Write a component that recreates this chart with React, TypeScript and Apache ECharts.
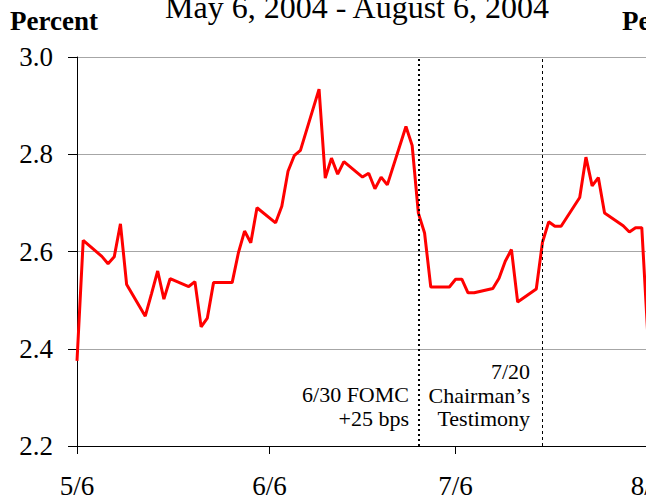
import React, { useEffect, useRef } from "react";
import * as echarts from "echarts";

const dates = [
  "2004-05-06", "2004-05-07", "2004-05-10", "2004-05-11", "2004-05-12", "2004-05-13", "2004-05-14",
  "2004-05-17", "2004-05-18", "2004-05-19", "2004-05-20", "2004-05-21", "2004-05-24", "2004-05-25",
  "2004-05-26", "2004-05-27", "2004-05-28", "2004-05-31", "2004-06-01", "2004-06-02", "2004-06-03",
  "2004-06-04", "2004-06-07", "2004-06-08", "2004-06-09", "2004-06-10", "2004-06-11", "2004-06-14",
  "2004-06-15", "2004-06-16", "2004-06-17", "2004-06-18", "2004-06-21", "2004-06-22", "2004-06-23",
  "2004-06-24", "2004-06-25", "2004-06-28", "2004-06-29", "2004-06-30", "2004-07-01", "2004-07-02",
  "2004-07-05", "2004-07-06", "2004-07-07", "2004-07-08", "2004-07-09", "2004-07-12", "2004-07-13",
  "2004-07-14", "2004-07-15", "2004-07-16", "2004-07-19", "2004-07-20", "2004-07-21", "2004-07-22",
  "2004-07-23", "2004-07-26", "2004-07-27", "2004-07-28", "2004-07-29", "2004-07-30", "2004-08-02",
  "2004-08-03", "2004-08-04", "2004-08-05", "2004-08-06",
];

const values = [
  2.375, 2.623, 2.590, 2.575, 2.589, 2.657, 2.532,
  2.467, 2.513, 2.560, 2.502, 2.544, 2.528, 2.538,
  2.445, 2.463, 2.536, 2.536, 2.597, 2.642, 2.618,
  2.690, 2.659, 2.693, 2.765, 2.797, 2.808, 2.934,
  2.751, 2.792, 2.759, 2.785, 2.753, 2.761, 2.729,
  2.753, 2.737, 2.857, 2.818, 2.679, 2.638, 2.527,
  2.527, 2.543, 2.543, 2.515, 2.515, 2.524, 2.545,
  2.580, 2.604, 2.496, 2.523, 2.619, 2.661, 2.652,
  2.652, 2.711, 2.794, 2.735, 2.752, 2.679, 2.653,
  2.640, 2.649, 2.649, 2.420,
];

const tickDates = ["2004-05-06", "2004-06-06", "2004-07-06", "2004-08-06"];
const eventDates = ["2004-06-30", "2004-07-20"];
const eventLabels = ["6/30 FOMC\n+25 bps", "7/20\nChairman\u2019s\nTestimony"];
const titleText = "May 6, 2004 - August 6, 2004";
const unitText = "Percent";
const yMin = 2.2;
const yMax = 3.0;
const yStep = 0.2;

const DAY = 86400000;
const ts = (s: string) => {
  const [y, m, d] = s.split("-").map(Number);
  return Date.UTC(y, m - 1, d);
};
const base = ts(dates[0]);
const dayOf = (s: string) => Math.round((ts(s) - base) / DAY);

const SERIF = "Liberation Serif";

export default function App() {
  const ref = useRef<HTMLDivElement>(null);
  useEffect(() => {
    if (!ref.current) return;
    const chart = echarts.init(ref.current, undefined, { renderer: "svg" });
    const tickDays = tickDates.map(dayOf);
    const txt = (text: string, x: number, y: number, size: number, align: string, extra: any = {}) => ({
      type: "text",
      x,
      y,
      silent: true,
      style: {
        text,
        fontSize: size,
        fontFamily: SERIF,
        fill: "#000",
        align,
        textAlign: align,
        verticalAlign: "middle",
        textVerticalAlign: "middle",
        ...extra,
      },
    });
    chart.setOption({
      animation: false,
      backgroundColor: "#fff",
      textStyle: { fontFamily: SERIF },
      grid: { left: 77, top: 57, right: 72, bottom: 52, containLabel: false },
      xAxis: {
        type: "value",
        min: 0,
        max: tickDays[tickDays.length - 1],
        axisLine: { show: true, onZero: false, lineStyle: { color: "#000", width: 1 } },
        axisTick: { show: true, customValues: tickDays, length: 8, lineStyle: { color: "#000" } },
        axisLabel: {
          customValues: tickDays,
          fontSize: 27,
          fontFamily: SERIF,
          color: "#000",
          margin: 26,
          formatter: (v: number) => {
            const d = new Date(base + v * DAY);
            return `${d.getUTCMonth() + 1}/${d.getUTCDate()}`;
          },
        },
        splitLine: { show: false },
      },
      yAxis: {
        type: "value",
        min: yMin,
        max: yMax,
        interval: yStep,
        axisLine: { show: true, lineStyle: { color: "#000", width: 1 } },
        axisTick: { show: true, length: 9, lineStyle: { color: "#000" } },
        axisLabel: {
          fontSize: 27,
          fontFamily: SERIF,
          color: "#000",
          margin: 24,
          formatter: (v: number) => v.toFixed(1),
        },
        splitLine: { show: true, lineStyle: { color: "#a6a6a6", width: 1 } },
      },
      series: [
        {
          type: "line",
          data: dates.map((d, i) => [dayOf(d), values[i]]),
          showSymbol: false,
          symbol: "none",
          lineStyle: { color: "#ff0000", width: 3 },
          z: 3,
          markLine: {
            silent: true,
            symbol: "none",
            label: { show: false },
            data: [
              { xAxis: dayOf(eventDates[0]), lineStyle: { color: "#000", width: 2, type: [2, 3] } },
              { xAxis: dayOf(eventDates[1]), lineStyle: { color: "#000", width: 1, type: [3, 3] } },
            ],
          },
        },
      ],
      graphic: [
        txt(titleText, 357, 7, 32, "center"),
        txt(unitText, 10, 21, 27, "left", { fontWeight: "bold" }),
        txt(unitText, 622, 21, 27, "left", { fontWeight: "bold" }),
        txt(eventLabels[0], 409, 406.5, 22, "right", { lineHeight: 23.5 }),
        txt(eventLabels[1], 530, 395, 22, "right", { lineHeight: 23.5 }),
      ],
    });
    return () => chart.dispose();
  }, []);
  return (
    <div style={{ position: "fixed", left: 0, top: 0, width: 646, height: 499, overflow: "hidden", background: "#fff" }}>
      <div ref={ref} style={{ width: 720, height: 499 }} />
    </div>
  );
}
